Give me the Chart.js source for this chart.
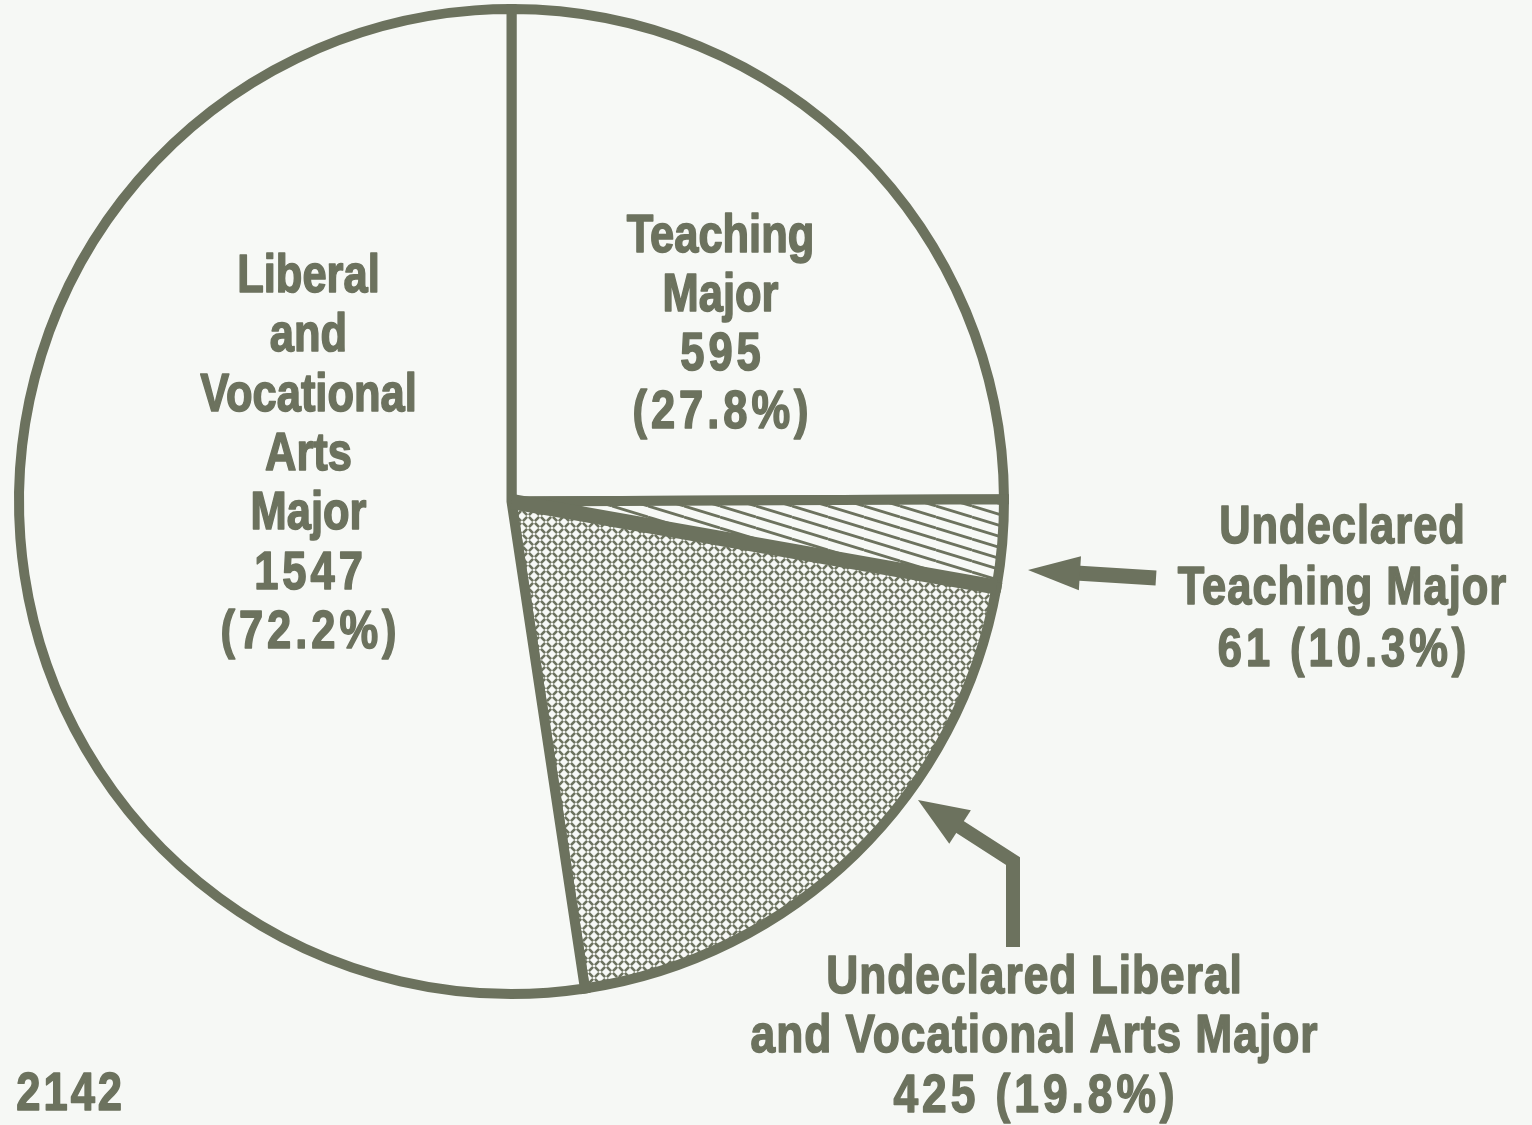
<!DOCTYPE html>
<html>
<head>
<meta charset="utf-8">
<script src="https://cdn.jsdelivr.net/npm/chart.js@4.4.0/dist/chart.umd.min.js"></script>
<style>
    html, body { margin: 0; padding: 0; background: #f6f8f5; }
</style>
</head>
<body>
<canvas id="pieChart" width="1532" height="1125"></canvas>
<script>
// values printed on the chart
const categories = ['Teaching Major', 'Undeclared Teaching Major', 'Undeclared Liberal and Vocational Arts Major', 'Liberal and Vocational Arts Major'];
const teachingTotal = 595;
const undeclaredTeaching = 61;
const undeclaredLiberal = 425;
const liberalTotal = 1547;
const totalStudents = 2142;
const percentLabels = ['27.8%', '10.3%', '19.8%', '72.2%'];

// slices go clockwise from 12 o'clock: declared teaching, undeclared teaching, undeclared liberal, declared liberal
const sliceValues = [teachingTotal - undeclaredTeaching, undeclaredTeaching, undeclaredLiberal, liberalTotal - undeclaredLiberal];

const ink = '#6c725e';
const paper = '#f7f9f6';
const FONT = "'Liberation Sans', Arial, sans-serif";
const NARROW = 0.82; // squeeze the sans into a condensed face

function makeHatch() {
    const c = document.createElement('canvas');
    c.width = 36; c.height = 11;
    const g = c.getContext('2d');
    g.fillStyle = paper;
    g.fillRect(0, 0, 36, 11);
    g.strokeStyle = ink;
    g.lineWidth = 2.8;
    for (let k = -1; k <= 1; k++) {
        g.beginPath();
        g.moveTo(0, k * 11);
        g.lineTo(36, k * 11 + 11);
        g.stroke();
    }
    return g.createPattern(c, 'repeat');
}

function makeCross() {
    const s = 12;
    const c = document.createElement('canvas');
    c.width = s; c.height = s;
    const g = c.getContext('2d');
    g.fillStyle = paper;
    g.fillRect(0, 0, s, s);
    g.strokeStyle = ink;
    g.lineWidth = 2.6;
    const segs = [
        [0.9, 0.9, 5.1, 5.1], [6.9, 6.9, 11.1, 11.1],
        [0.9, 11.1, 5.1, 6.9], [6.9, 5.1, 11.1, 0.9]
    ];
    segs.forEach(([a, b, c2, d]) => {
        g.beginPath();
        g.moveTo(a, b);
        g.lineTo(c2, d);
        g.stroke();
    });
    return g.createPattern(c, 'repeat');
}

function textLines(ctx, lines, x, y, step, size, spacing) {
    ctx.font = 'bold ' + size + 'px ' + FONT;
    lines.forEach((t, i) => {
        const sp = /[0-9]/.test(t) ? spacing[1] : spacing[0];
        ctx.save();
        ctx.translate(x, y + i * step);
        ctx.scale(NARROW, 1);
        ctx.letterSpacing = (sp / NARROW) + 'px';
        const shift = ctx.textAlign === 'center' ? sp / NARROW / 2 : (ctx.textAlign === 'right' ? sp / NARROW : 0);
        ctx.fillText(t, shift, 0);
        ctx.strokeText(t, shift, 0);
        ctx.restore();
    });
}

function arrow(ctx, pts, shaftW, headLen, headW) {
    const n = pts.length;
    const tip = pts[n - 1], prev = pts[n - 2];
    const dx = tip[0] - prev[0], dy = tip[1] - prev[1];
    const len = Math.hypot(dx, dy);
    const ux = dx / len, uy = dy / len;
    const bx = tip[0] - ux * headLen, by = tip[1] - uy * headLen;
    ctx.save();
    ctx.strokeStyle = ink;
    ctx.fillStyle = ink;
    ctx.lineWidth = shaftW;
    ctx.lineJoin = 'miter';
    ctx.beginPath();
    ctx.moveTo(pts[0][0], pts[0][1]);
    for (let i = 1; i < n - 1; i++) ctx.lineTo(pts[i][0], pts[i][1]);
    ctx.lineTo(bx + ux * 4, by + uy * 4);
    ctx.stroke();
    ctx.beginPath();
    ctx.moveTo(tip[0], tip[1]);
    ctx.lineTo(bx - uy * headW / 2, by + ux * headW / 2);
    ctx.lineTo(bx + uy * headW / 2, by - ux * headW / 2);
    ctx.closePath();
    ctx.fill();
    ctx.restore();
}

const paperPlugin = {
    id: 'paper',
    beforeDraw(chart) {
        const ctx = chart.ctx;
        ctx.save();
        ctx.fillStyle = '#f6f8f5';
        ctx.fillRect(0, 0, chart.width, chart.height);
        ctx.restore();
    }
};

const annotations = {
    id: 'annotations',
    afterDatasetsDraw(chart) {
        const ctx = chart.ctx;
        const arcs = chart.getDatasetMeta(0).data;
        const a = arcs[1];
        const cx = a.x, cy = a.y, r = a.outerRadius;

        // heavy rule between the two undeclared slices
        const ang = a.endAngle;
        ctx.save();
        ctx.strokeStyle = ink;
        ctx.lineWidth = 15;
        ctx.lineCap = 'butt';
        ctx.beginPath();
        ctx.moveTo(cx, cy);
        ctx.lineTo(cx + Math.cos(ang) * r, cy + Math.sin(ang) * r);
        ctx.stroke();
        ctx.restore();

        ctx.save();
        ctx.fillStyle = ink;
        ctx.strokeStyle = ink;
        ctx.lineWidth = 1.6;
        ctx.lineJoin = 'round';
        ctx.textAlign = 'center';
        ctx.textBaseline = 'middle';

        textLines(ctx, ['Teaching', 'Major', String(teachingTotal), '(' + percentLabels[0] + ')'],
            cx + 209, cy - 264, 58.7, 53, [0, 4]);
        textLines(ctx, ['Liberal', 'and', 'Vocational', 'Arts', 'Major', String(liberalTotal), '(' + percentLabels[3] + ')'],
            cx - 203, cy - 224, 59.3, 53, [0, 4]);
        textLines(ctx, ['Undeclared', 'Teaching Major', undeclaredTeaching + ' (' + percentLabels[1] + ')'],
            1342, 528, 61.5, 53, [1, 4]);
        textLines(ctx, ['Undeclared Liberal', 'and Vocational Arts Major', undeclaredLiberal + ' (' + percentLabels[2] + ')'],
            1034, 978, 59.5, 54, [1, 4]);

        ctx.textAlign = 'right';
        textLines(ctx, ['n  ' + totalStudents], 122, 1095, 0, 53, [0, 3]);
        ctx.restore();

        arrow(ctx, [[1156, 578], [1028, 570]], 15, 52, 34);
        arrow(ctx, [[1013, 947], [1013, 861], [918, 800]], 14, 50, 40);
    }
};

const ctx = document.getElementById('pieChart').getContext('2d');
const pieChart = new Chart(ctx, {
    type: 'pie',
    data: {
        labels: categories,
        datasets: [{
            data: sliceValues,
            backgroundColor: [paper, makeHatch(), makeCross(), paper],
            borderColor: ink,
            borderWidth: 10,
            borderJoinStyle: 'miter',
            hoverOffset: 0,
            offset: 0
        }]
    },
    options: {
        responsive: false,
        animation: false,
        events: [],
        rotation: 0,
        layout: { padding: { left: 14, top: 4, right: 523, bottom: 126 } },
        plugins: {
            legend: { display: false },
            tooltip: { enabled: false }
        }
    },
    plugins: [paperPlugin, annotations]
});
</script>
</body>
</html>
